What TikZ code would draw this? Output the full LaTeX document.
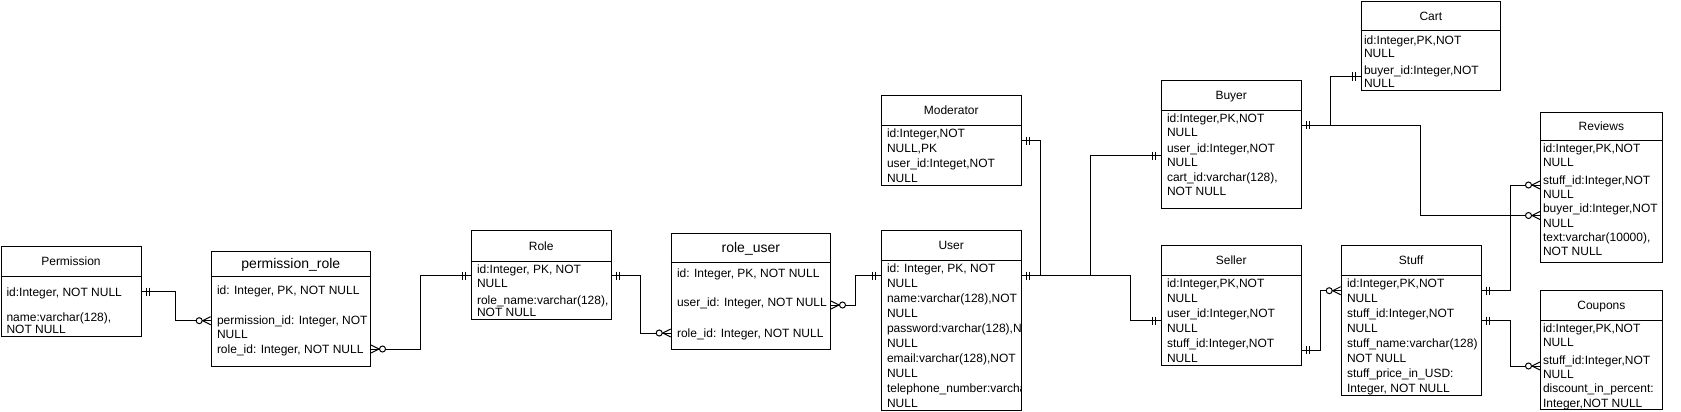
\documentclass[tikz,border=0pt]{standalone}
\usepackage{fontspec}
\setmainfont{Liberation Sans}
\usetikzlibrary{calc}
\newcommand\mone[2]{\draw ($(#1)+(#2*5,-4)$) -- ++(0,8) ($(#1)+(#2*8,-4)$) -- ++(0,8);}
\newcommand\zmany[2]{\draw ($(#1)+(#2*8,0)$) -- ($(#1)+(0,-4)$) ($(#1)+(#2*8,0)$) -- ($(#1)+(0,4)$);
  \draw[fill=white] ($(#1)+(#2*11.5,0)$) circle[radius=3pt];}
\begin{document}
\begin{tikzpicture}[x=1pt,y=-1pt,line width=1pt,
  tbl/.style={draw,anchor=north west,inner sep=0pt,fill=white},
  hdr/.style={inner sep=0pt,text height=8.6pt,text depth=0pt,font=\fontsize{12}{15}\selectfont},
  hdrbig/.style={inner sep=0pt,text height=10pt,text depth=0pt,font=\fontsize{14}{17}\selectfont},
  row/.style={anchor=west,inner sep=0pt,text height=8.6pt,text depth=0pt,font=\fontsize{12}{15}\selectfont},
  conn/.style={draw}]
\useasboundingbox (0,0) rectangle (1681,412);
\fill[white] (0,0) rectangle (1681,412);

% ---------- tables ----------
\node[tbl,minimum width=140pt,minimum height=90pt] (perm) at (0.5,246) {};
\draw ([yshift=-30.7pt]perm.north west) -- ([yshift=-30.7pt]perm.north east);
\node[hdr] (permH) at ([yshift=-15.35pt]perm.north) {Permission};
\node[row] (p1) at (6,291.7) {id:Integer, NOT NULL};
\node[row] (p2) at (6,317) {name:varchar(128),};
\node[row] (p3) at (6,329.5) {NOT NULL};

\node[tbl,minimum width=159.3pt,minimum height=115.3pt] (prole) at (210.7,250.7) {};
\draw ([yshift=-25.3pt]prole.north west) -- ([yshift=-25.3pt]prole.north east);
\node[hdrbig] (proleH) at ([yshift=-12.65pt]prole.north) {permission\_role};
\node[row] (pr1) at (216.5,290) {id: Integer, PK, NOT NULL};
\node[row] (pr2) at (216.5,320) {permission\_id: Integer, NOT};
\node[row] (pr3) at (216.5,334) {NULL};
\node[row] (pr4) at (216.5,349) {role\_id: Integer, NOT NULL};

\node[tbl,minimum width=140pt,minimum height=89.3pt] (role) at (470.7,230) {};
\draw ([yshift=-31.7pt]role.north west) -- ([yshift=-31.7pt]role.north east);
\node[hdr] (roleH) at ([yshift=-15.85pt]role.north) {Role};
\node[row] (r1) at (476.5,269.3) {id:Integer, PK, NOT};
\node[row] (r2) at (476.5,283.3) {NULL};
\node[row] (r3) at (476.5,300.5) {role\_name:varchar(128),};
\node[row] (r4) at (476.5,312.3) {NOT NULL};

\node[tbl,minimum width=159.3pt,minimum height=116pt] (ruser) at (670.7,233.3) {};
\draw ([yshift=-29pt]ruser.north west) -- ([yshift=-29pt]ruser.north east);
\node[hdrbig] (ruserH) at ([yshift=-14.5pt]ruser.north) {role\_user};
\node[row] (ru1) at (676.5,272.7) {id: Integer, PK, NOT NULL};
\node[row] (ru2) at (676.5,301.7) {user\_id: Integer, NOT NULL};
\node[row] (ru3) at (676.5,332.7) {role\_id: Integer, NOT NULL};

\node[tbl,minimum width=140pt,minimum height=90pt] (moder) at (880.7,95) {};
\draw ([yshift=-30pt]moder.north west) -- ([yshift=-30pt]moder.north east);
\node[hdr] (moderH) at ([yshift=-15pt]moder.north) {Moderator};
\node[row] (m1) at (886.5,133.3) {id:Integer,NOT};
\node[row] (m2) at (886.5,148.3) {NULL,PK};
\node[row] (m3) at (886.5,163.3) {user\_id:Integet,NOT};
\node[row] (m4) at (886.5,178) {NULL};

\node[tbl,minimum width=140pt,minimum height=180pt] (user) at (880.7,230) {};
\draw ([yshift=-30pt]user.north west) -- ([yshift=-30pt]user.north east);
\node[hdr] (userH) at ([yshift=-15pt]user.north) {User};
\begin{scope}
\clip (user.north west) rectangle (user.south east);
\node[row] (u1) at (886.5,268.3) {id: Integer, PK, NOT};
\node[row] (u2) at (886.5,283.3) {NULL};
\node[row] (u3) at (886.5,298.6) {name:varchar(128),NOT};
\node[row] (u4) at (886.5,313.3) {NULL};
\node[row] (u5) at (886.5,328.3) {password:varchar(128),NOT};
\node[row] (u6) at (886.5,343.3) {NULL};
\node[row] (u7) at (886.5,358.3) {email:varchar(128),NOT};
\node[row] (u8) at (886.5,373.3) {NULL};
\node[row] (u9) at (886.5,388.3) {telephone\_number:varchar(128),NOT};
\node[row] (u10) at (886.5,403.3) {NULL};
\end{scope}

\node[tbl,minimum width=140pt,minimum height=128.3pt] (buyer) at (1160.7,80) {};
\draw ([yshift=-30pt]buyer.north west) -- ([yshift=-30pt]buyer.north east);
\node[hdr] (buyerH) at ([yshift=-15pt]buyer.north) {Buyer};
\node[row] (b1) at (1166.5,118.3) {id:Integer,PK,NOT};
\node[row] (b2) at (1166.5,131.7) {NULL};
\node[row] (b3) at (1166.5,148.3) {user\_id:Integer,NOT};
\node[row] (b4) at (1166.5,161.7) {NULL};
\node[row] (b5) at (1166.5,177.3) {cart\_id:varchar(128),};
\node[row] (b6) at (1166.5,190.7) {NOT NULL};

\node[tbl,minimum width=140pt,minimum height=120pt] (seller) at (1160.7,245) {};
\draw ([yshift=-30pt]seller.north west) -- ([yshift=-30pt]seller.north east);
\node[hdr] (sellerH) at ([yshift=-15pt]seller.north) {Seller};
\node[row] (s1) at (1166.5,283.3) {id:Integer,PK,NOT};
\node[row] (s2) at (1166.5,298.3) {NULL};
\node[row] (s3) at (1166.5,313.3) {user\_id:Integer,NOT};
\node[row] (s4) at (1166.5,328.3) {NULL};
\node[row] (s5) at (1166.5,343.3) {stuff\_id:Integer,NOT};
\node[row] (s6) at (1166.5,358.3) {NULL};

\node[tbl,minimum width=140pt,minimum height=150pt] (stuff) at (1340.7,245) {};
\draw ([yshift=-30pt]stuff.north west) -- ([yshift=-30pt]stuff.north east);
\node[hdr] (stuffH) at ([yshift=-15pt]stuff.north) {Stuff};
\node[row] (t1) at (1346.5,283.3) {id:Integer,PK,NOT};
\node[row] (t2) at (1346.5,298.3) {NULL};
\node[row] (t3) at (1346.5,313.3) {stuff\_id:Integer,NOT};
\node[row] (t4) at (1346.5,328.3) {NULL};
\node[row] (t5) at (1346.5,343.3) {stuff\_name:varchar(128)};
\node[row] (t6) at (1346.5,358.3) {NOT NULL};
\node[row] (t7) at (1346.5,373.3) {stuff\_price\_in\_USD:};
\node[row] (t8) at (1346.5,388.3) {Integer, NOT NULL};

\node[tbl,minimum width=139.3pt,minimum height=89pt] (cart) at (1360.7,1) {};
\draw ([yshift=-29.7pt]cart.north west) -- ([yshift=-29.7pt]cart.north east);
\node[hdr] (cartH) at ([yshift=-14.85pt]cart.north) {Cart};
\node[row] (c1) at (1363.5,40) {id:Integer,PK,NOT};
\node[row] (c2) at (1363.5,53.3) {NULL};
\node[row] (c3) at (1363.5,70) {buyer\_id:Integer,NOT};
\node[row] (c4) at (1363.5,83.3) {NULL};

\node[tbl,minimum width=121.7pt,minimum height=150pt] (rev) at (1540,111.7) {};
\draw ([yshift=-28.3pt]rev.north west) -- ([yshift=-28.3pt]rev.north east);
\node[hdr] (revH) at ([yshift=-14.15pt]rev.north) {Reviews};
\node[row] (v1) at (1542.5,148.3) {id:Integer,PK,NOT};
\node[row] (v2) at (1542.5,161.7) {NULL};
\node[row] (v3) at (1542.5,180) {stuff\_id:Integer,NOT};
\node[row] (v4) at (1542.5,194) {NULL};
\node[row] (v5) at (1542.5,208.3) {buyer\_id:Integer,NOT};
\node[row] (v6) at (1542.5,222.7) {NULL};
\node[row] (v7) at (1542.5,236.7) {text:varchar(10000),};
\node[row] (v8) at (1542.5,250.7) {NOT NULL};

\node[tbl,minimum width=121.7pt,minimum height=119.3pt] (coup) at (1540,290) {};
\draw ([yshift=-30pt]coup.north west) -- ([yshift=-30pt]coup.north east);
\node[hdr] (coupH) at ([yshift=-15pt]coup.north) {Coupons};
\node[row] (o1) at (1542.5,328.3) {id:Integer,PK,NOT};
\node[row] (o2) at (1542.5,342.3) {NULL};
\node[row] (o3) at (1542.5,360) {stuff\_id:Integer,NOT};
\node[row] (o4) at (1542.5,374.3) {NULL};
\node[row] (o5) at (1542.5,388.3) {discount\_in\_percent:};
\node[row] (o6) at (1542.5,402.7) {Integer,NOT NULL};

% ---------- connector end points ----------
\coordinate (aS) at ([yshift=-45.7pt]perm.north east);
\coordinate (aE) at ([yshift=-70pt]prole.north west);
\coordinate (bS) at ([yshift=-98.3pt]prole.north east);
\coordinate (bE) at ([yshift=-45.7pt]role.north west);
\coordinate (cS) at ([yshift=-45.7pt]role.north east);
\coordinate (cE) at ([yshift=-99.7pt]ruser.north west);
\coordinate (dS) at ([yshift=-71.7pt]ruser.north east);
\coordinate (dE) at ([yshift=-45.7pt]user.north west);
\coordinate (uS) at ([yshift=-45.7pt]user.north east);
\coordinate (eE) at ([yshift=-45.7pt]moder.north east);
\coordinate (fE) at ([yshift=-75.7pt]buyer.north west);
\coordinate (gE) at ([yshift=-75.7pt]seller.north west);
\coordinate (hS) at ([yshift=-45pt]buyer.north east);
\coordinate (hE) at ([yshift=-75.5pt]cart.north west);
\coordinate (iE) at ([yshift=-103.8pt]rev.north west);
\coordinate (jS) at ([yshift=-105pt]seller.north east);
\coordinate (jE) at ([yshift=-45.7pt]stuff.north west);
\coordinate (kS) at ([yshift=-45.7pt]stuff.north east);
\coordinate (kE) at ([yshift=-73.3pt]rev.north west);
\coordinate (lS) at ([yshift=-75.7pt]stuff.north east);
\coordinate (lE) at ([yshift=-76pt]coup.north west);

% ---------- connectors ----------
\draw[conn] (aS) -- (175.7,0 |- aS) |- (aE);
\draw[conn] (bS) -- (420.7,0 |- bS) |- (bE);
\draw[conn] (cS) -- (640,0 |- cS) |- (cE);
\draw[conn] (dS) -- (855,0 |- dS) |- (dE);
\draw[conn] (uS) -- (1040.7,0 |- uS) |- (eE);
\draw[conn] (uS) -- (1090.7,0 |- uS) |- (fE);
\draw[conn] (uS) -- (1130.7,0 |- uS) |- (gE);
\draw[conn] (hS) -- (1330,0 |- hS) |- (hE);
\draw[conn] (hS) -- (1420.7,0 |- hS) |- (iE);
\draw[conn] (jS) -- (1320.7,0 |- jS) |- (jE);
\draw[conn] (kS) -- (1510.7,0 |- kS) |- (kE);
\draw[conn] (lS) -- (1510.7,0 |- lS) |- (lE);

% ---------- markers ----------
\mone{aS}{1} \zmany{aE}{-1}
\zmany{bS}{1} \mone{bE}{-1}
\mone{cS}{1} \zmany{cE}{-1}
\zmany{dS}{1} \mone{dE}{-1}
\mone{uS}{1} \mone{eE}{1} \mone{fE}{-1} \mone{gE}{-1}
\mone{hS}{1} \mone{hE}{-1} \zmany{iE}{-1}
\mone{jS}{1} \zmany{jE}{-1}
\mone{kS}{1} \zmany{kE}{-1}
\mone{lS}{1} \zmany{lE}{-1}
\end{tikzpicture}
\end{document}
